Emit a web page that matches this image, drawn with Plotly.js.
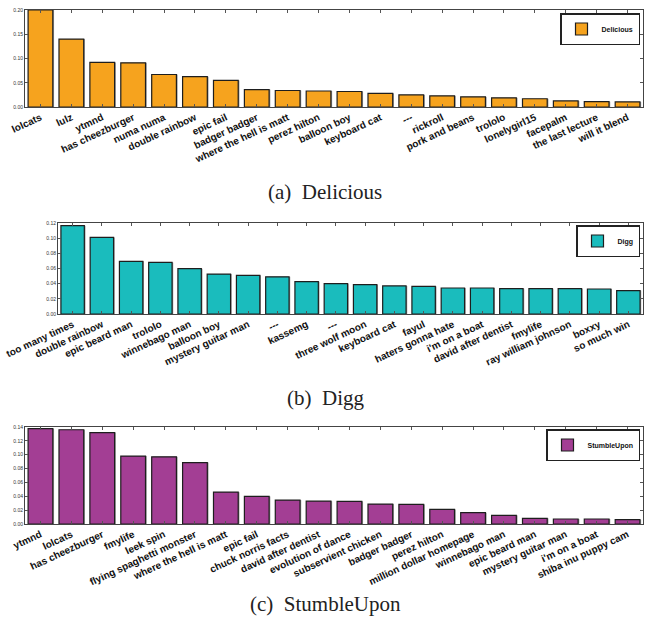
<!DOCTYPE html>
<html>
<head>
<meta charset="utf-8">
<script src="https://cdn.plot.ly/plotly-3.0.1.min.js"></script>
<style>html,body{margin:0;padding:0;background:#fff;}#chart{width:646px;height:631px;}</style>
</head>
<body>
<div id="chart"></div>
<script>
// ---- Data ----
const deliciousLabels = ["lolcats","lulz","ytmnd","has cheezburger","numa numa","double rainbow","epic fail","badger badger","where the hell is matt","perez hilton","balloon boy","keyboard cat","---","rickroll","pork and beans","trololo","lonelygirl15","facepalm","the last lecture","will it blend"];
const deliciousValues = [0.200,0.140,0.092,0.091,0.067,0.0625,0.055,0.036,0.034,0.033,0.032,0.028,0.025,0.023,0.021,0.019,0.017,0.0125,0.011,0.0105];

const diggLabels = ["too many times","double rainbow","epic beard man","trololo","winnebago man","balloon boy","mystery guitar man","---","kassemg","---","three wolf moon","keyboard cat","fayul","haters gonna hate","i'm on a boat","david after dentist","fmylife","ray william johnson","boxxy","so much win"];
const diggValues = [0.1165,0.101,0.0695,0.068,0.0598,0.0527,0.051,0.049,0.0426,0.040,0.0387,0.037,0.0365,0.0343,0.0343,0.0334,0.0334,0.0334,0.033,0.0308];

const stumbleLabels = ["ytmnd","lolcats","has cheezburger","fmylife","leek spin","flying spaghetti monster","where the hell is matt","epic fail","chuck norris facts","david after dentist","evolution of dance","subservient chicken","badger badger","perez hilton","million dollar homepage","winnebago man","epic beard man","mystery guitar man","i'm on a boat","shiba inu puppy cam"];
const stumbleValues = [0.1376,0.136,0.132,0.098,0.097,0.0887,0.046,0.0398,0.0345,0.033,0.0326,0.0288,0.0283,0.021,0.0163,0.0125,0.0082,0.0072,0.0072,0.0062];

const yTicks1 = [0,0.05,0.10,0.15,0.20];
const yTicks2 = [0,0.02,0.04,0.06,0.08,0.10,0.12];
const yTicks3 = [0,0.02,0.04,0.06,0.08,0.10,0.12,0.14];

const seriesNames = ["Delicious","Digg","StumbleUpon"];
const captions = ["(a)\u00a0 Delicious","(b)\u00a0 Digg","(c)\u00a0 StumbleUpon"];

// ---- Styling / layout ----
const W = 646, H = 631;
const colors = ["#F6A31E","#1ABCBD","#A33E94"];
const panels = [
  {labels: deliciousLabels, values: deliciousValues, ticks: yTicks1, x0: 25, x1: 643, top: 10, bot: 107, leg: {right: 640, top: 13}, cap: 192},
  {labels: diggLabels, values: diggValues, ticks: yTicks2, x0: 58, x1: 643, top: 223, bot: 314, leg: {right: 640, top: 225}, cap: 398},
  {labels: stumbleLabels, values: stumbleValues, ticks: yTicks3, x0: 25, x1: 643, top: 427, bot: 524, leg: {right: 640, top: 429}, cap: 604}
];

const traces = [];
const layout = {
  width: W, height: H,
  margin: {l: 0, r: 0, t: 0, b: 0},
  paper_bgcolor: "#fff", plot_bgcolor: "#fff",
  barmode: "overlay",
  showlegend: true,
  annotations: []
};

panels.forEach((p, k) => {
  const n = k === 0 ? "" : String(k + 1);
  const idx = p.labels.map((_, i) => i);
  const legName = k === 0 ? "legend" : "legend" + (k + 1);
  // shadow
  traces.push({
    type: "bar", x: idx, y: p.values, xaxis: "x" + n, yaxis: "y" + n,
    width: 0.8, offset: -0.36,
    marker: {color: "#9a9a9a", line: {width: 0}},
    showlegend: false, hoverinfo: "skip"
  });
  traces.push({
    type: "bar", x: idx, y: p.values, xaxis: "x" + n, yaxis: "y" + n,
    width: 0.8, offset: -0.4,
    name: seriesNames[k], legend: legName,
    marker: {color: colors[k], line: {color: "#1e1e1e", width: 1.2}}
  });
  layout["xaxis" + n] = {
    domain: [p.x0 / W, p.x1 / W],
    anchor: "y" + n,
    range: [-0.5, p.labels.length - 0.5],
    tickmode: "array", tickvals: idx, ticktext: p.labels,
    tickangle: -25,
    tickfont: {family: "Liberation Sans, Arial, sans-serif", size: 10, color: "#111", weight: "bold"},
    ticks: "inside", ticklen: 3, tickcolor: "#555",
    showline: true, linecolor: "#444", linewidth: 1, mirror: "ticks",
    showgrid: false, zeroline: false, fixedrange: true
  };
  layout["yaxis" + n] = {
    domain: [1 - p.bot / H, 1 - p.top / H],
    anchor: "x" + n,
    range: [0, p.ticks[p.ticks.length - 1]],
    tickmode: "array", tickvals: p.ticks,
    tickformat: ".2f",
    tickfont: {family: "Liberation Sans, Arial, sans-serif", size: 5, color: "#333"},
    ticks: "inside", ticklen: 3, tickcolor: "#555",
    showline: true, linecolor: "#444", linewidth: 1, mirror: "ticks",
    showgrid: false, zeroline: false, fixedrange: true
  };
  layout[legName] = {
    x: p.leg.right / W, xanchor: "right",
    y: 1 - p.leg.top / H, yanchor: "top",
    bgcolor: "#fff", bordercolor: "#222", borderwidth: 1.5,
    font: {family: "Liberation Sans, Arial, sans-serif", size: 7, color: "#111", weight: "bold"},
    itemwidth: 30, tracegroupgap: 0
  };
  layout.annotations.push({
    xref: "paper", yref: "paper", x: 325 / W, y: 1 - p.cap / H,
    xanchor: "center", yanchor: "middle", showarrow: false,
    text: captions[k],
    font: {family: "Liberation Serif, Times New Roman, serif", size: 21, color: "#222"}
  });
});

Plotly.newPlot("chart", traces, layout, {displayModeBar: false, staticPlot: true});
</script>
</body>
</html>
